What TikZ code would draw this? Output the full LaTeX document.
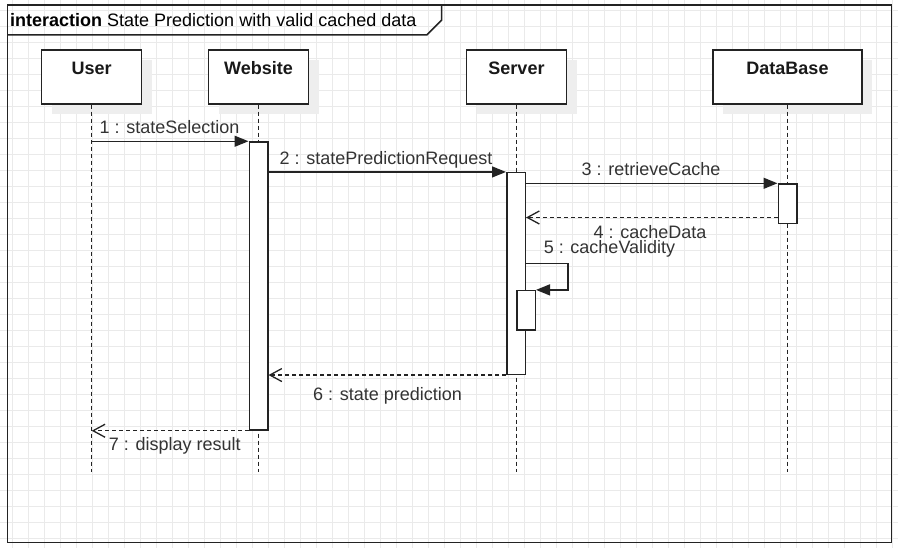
\documentclass[tikz,border=0pt]{standalone}
\usepackage{fontspec}
\setmainfont{Liberation Sans}
\usetikzlibrary{positioning,arrows.meta,calc}
\definecolor{sdLine}{RGB}{35,35,35}
\definecolor{sdText}{RGB}{51,51,51}
\definecolor{sdGrid}{RGB}{234,234,234}
\definecolor{sdShadow}{RGB}{238,238,238}

\begin{document}
\begin{tikzpicture}[x=1pt,y=-1pt,
  head/.style={draw=sdLine, line width=1.5pt, fill=white, minimum width=100pt,
    minimum height=54pt, inner sep=0pt,
    preaction={draw=none, fill=sdShadow, transform canvas={shift={(10pt,-10pt)}}}},
  act/.style={draw=sdLine, line width=1.5pt, fill=white, minimum width=18.5pt, inner sep=0pt},
  life/.style={sdLine, line width=1.3pt, dash pattern=on 4pt off 3pt},
  sync/.style={sdLine, line width=1.3pt, -{Triangle[length=14pt, width=11pt]}},
  reply/.style={sdLine, line width=1.3pt, dash pattern=on 4pt off 3pt,
    -{Straight Barb[length=12pt, width=13pt]}},
  lbl/.style={font=\fontsize{18}{21}\selectfont, text=sdText, inner sep=0pt, anchor=base},
  hname/.style={font=\fontsize{18}{21}\selectfont\bfseries, text=black!90, anchor=base,
    inner sep=0pt, label distance=-25pt}]
  \useasboundingbox (0,0) rectangle (898,548);
  \fill[white] (0,0) rectangle (898,548);

  % Grid
  \foreach \gx in {0,...,55} \draw[sdGrid, line width=0.9pt] ({12.3+16*\gx},0) -- ({12.3+16*\gx},548);
  \foreach \gy in {0,...,33} \draw[sdGrid, line width=0.9pt] (0,{10.3+16*\gy}) -- (898,{10.3+16*\gy});

  % Frame
  \draw[sdLine, line width=1.5pt] (7.3,5) rectangle (891.7,542.3);
  \draw[sdLine, line width=1.5pt] (7.3,35) -- (426.7,35) -- (441.7,20) -- (441.7,5);
  \node[anchor=base west, inner sep=0pt, font=\fontsize{18}{21}\selectfont] (title) at (10,26.7)
    {\textbf{interaction} State Prediction with valid cached data};

  % Lifelines
  \node[head, label={[hname]north:User}] (user) at (91.7,77) {};
  \node[head, label={[hname]north:Website}] (web) at (258.5,77) {};
  \node[head, label={[hname]north:Server}] (server) at (516.5,77) {};
  \node[head, minimum width=149pt, label={[hname]north:DataBase}] (db) at (787.5,77) {};
  \coordinate (lend) at (0,472);
  \foreach \l in {user,web,server,db}
    \draw[life] (\l) -- (\l |- lend);

  % Activations
  \node[act, minimum height=288pt] (actW) at (258.5,286) {};
  \node[act, minimum height=201.6pt] (actS) at (516,273.5) {};
  \node[act, minimum height=39.3pt] (actN) at (526,310.3) {};
  \node[act, minimum height=39.3pt] (actD) at (787.5,203.7) {};

  % Messages
  \draw[sync] (user |- actW.north) -- (actW.north west);
  \node[lbl] (m1) at (169.5,134) {1 : stateSelection};
  \draw[sync] (actW.east |- actS.north) -- (actS.north west);
  \node[lbl] (m2) at (386,165) {2 : statePredictionRequest};
  \draw[sync] (actS.east |- actD.north) -- (actD.north west);
  \node[lbl] (m3) at (651,176) {3 : retrieveCache};
  \coordinate (y4) at (0,217.5);
  \draw[reply] (actD.west |- y4) -- (actS.east |- y4);
  \node[lbl] (m4) at (650,238.3) {4 : cacheData};
  \coordinate (y5) at (0,263.3);
  \draw[sync] (actS.east |- y5) -- ++(42,0) |- (actN.north east);
  \node[lbl] (m5) at (609.5,254) {5 : cacheValidity};
  \draw[reply] (actS.south west) -- (actW.east |- actS.south);
  \node[lbl] (m6) at (387.5,400) {6 : state prediction};
  \draw[reply] (actW.south west) -- (user |- actW.south);
  \node[lbl] (m7) at (174.7,450) {7 : display result};
\end{tikzpicture}
\end{document}
